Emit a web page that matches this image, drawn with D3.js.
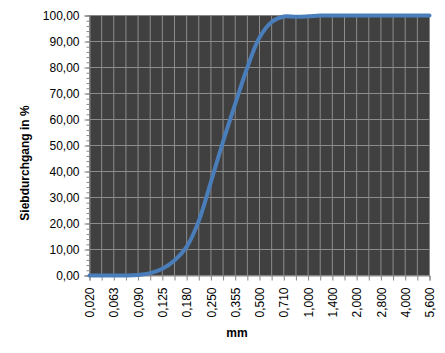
<!DOCTYPE html>
<html><head><meta charset="utf-8">
<script src="https://cdn.jsdelivr.net/npm/d3@7"></script>
<style>
html,body{margin:0;padding:0;background:#fff;}
text{font-family:"Liberation Sans",Arial,sans-serif;}
</style></head>
<body><svg id="c" width="445" height="353"></svg>
<script>
const categories = ["0,020","0,040","0,063","0,071","0,090","0,100","0,125","0,160","0,180","0,200","0,250","0,315","0,355","0,400","0,500","0,630","0,710","0,800","1,000","1,250","1,400","1,600","2,000","2,500","2,800","3,150","4,000","5,000","5,600"];
const passing = [0,0,0,0,0.2,0.9,2.6,5.8,11,21,36,51.5,66,80,91.5,97.5,99.6,99.5,99.7,100,100,100,100,100,100,100,100,100,100];
const yTicks = [0,10,20,30,40,50,60,70,80,90,100];
const yMinorTicks = d3.range(0,101,2);
const xTitle = "mm";
const yTitle = "Siebdurchgang in %";

const svg = d3.select("#c");
const L=89.5, R=429.5, T=15.5, B=275.5;
const x = d3.scalePoint().domain(categories).range([L,R]);
const y = d3.scaleLinear().domain([0,100]).range([B,T]);
const loc = d3.formatLocale({decimal:",",thousands:".",grouping:[3],currency:["","€"]});
const fy = loc.format(".2f");

svg.append("rect").attr("x",L).attr("y",T).attr("width",R-L).attr("height",B-T).attr("fill","#404040");
// grid
svg.append("g").selectAll("line").data(categories).join("line")
  .attr("x1",d=>x(d)).attr("x2",d=>x(d)).attr("y1",T).attr("y2",B)
  .attr("stroke","#8c8c8c").attr("stroke-width",1);
svg.append("g").selectAll("line").data(yTicks).join("line")
  .attr("x1",L).attr("x2",R).attr("y1",d=>y(d)).attr("y2",d=>y(d))
  .attr("stroke","#8c8c8c").attr("stroke-width",1);
svg.append("rect").attr("x",L).attr("y",T).attr("width",R-L).attr("height",B-T)
  .attr("fill","none").attr("stroke","#868686");

// y axis minor
const ym = svg.append("g").attr("transform",`translate(${L},0)`)
  .call(d3.axisLeft(y).tickValues(yMinorTicks).tickSize(3).tickFormat(""));
ym.select(".domain").remove();
ym.selectAll("line").attr("stroke","#868686");
const ya = svg.append("g").attr("transform",`translate(${L},0)`)
  .call(d3.axisLeft(y).tickValues(yTicks).tickSize(5).tickPadding(5).tickFormat(fy));
ya.select(".domain").attr("stroke","#868686");
ya.selectAll("line").attr("stroke","#868686");
ya.selectAll("text").attr("font-size","12px").attr("fill","#000").style("font-family","'Liberation Sans',Arial,sans-serif");

const xa = svg.append("g").attr("transform",`translate(0,${B})`)
  .call(d3.axisBottom(x).tickSize(5).tickFormat((d,i)=> i%2===0 ? d : ""));
xa.select(".domain").attr("stroke","#868686");
xa.selectAll("line").attr("stroke","#868686");
xa.selectAll("text").attr("font-size","12px").attr("fill","#000")
  .style("font-family","'Liberation Sans',Arial,sans-serif")
  .attr("transform","rotate(-90)").attr("text-anchor","end")
  .attr("x",-12).attr("y",0).attr("dy","0.35em");

// line
const line = d3.line().x((d,i)=>x(categories[i])).y(d=>y(d)).curve(d3.curveCatmullRom.alpha(0.5));
svg.append("path").datum(passing).attr("d",line).attr("fill","none")
  .attr("stroke","#4a7ebb").attr("stroke-width",4).attr("stroke-linecap","round").attr("stroke-linejoin","round");

svg.append("text").attr("x",237).attr("y",337).attr("text-anchor","middle")
  .attr("font-size","12px").attr("font-weight","bold").text(xTitle);
svg.append("text").attr("transform","translate(29,163) rotate(-90)").attr("text-anchor","middle")
  .attr("font-size","12px").attr("font-weight","bold").text(yTitle);
</script></body></html>
